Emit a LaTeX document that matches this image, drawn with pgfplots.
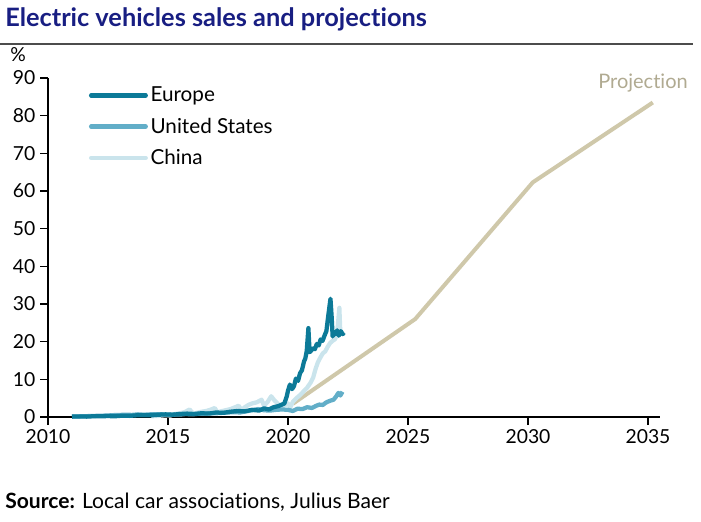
\documentclass[border=0pt]{standalone}
\usepackage{pgfplots}
\pgfplotsset{compat=1.18}
\usepackage{fontspec}
\setmainfont{Lato}[Ligatures={NoCommon}]
\definecolor{europe}{RGB}{12,122,152}
\definecolor{usa}{RGB}{98,174,200}
\definecolor{china}{RGB}{202,228,236}
\definecolor{proj}{RGB}{207,200,170}
\definecolor{navy}{RGB}{24,30,130}
\begin{document}
\begin{tikzpicture}
\useasboundingbox (-36pt,-78.75pt) rectangle (489.75pt,312.75pt);
\begin{axis}[
  scale only axis,
  width=459pt, height=254.25pt,
  xmin=2010, xmax=2035.5, ymin=0, ymax=90,
  axis x line=bottom, axis y line=left,
  axis line style={-, line width=1.1pt, black},
  xtick={2010,2015,2020,2025,2030,2035},
  ytick={0,10,...,90},
  xticklabel style={/pgf/number format/1000 sep={}},
  /pgf/number format/assume math mode=true,
  ticklabel style={font=\fontsize{14.5}{17}\selectfont},
  tick align=outside,
  major tick length=6pt,
  tick style={line width=1.1pt, black},
  legend style={at={(rel axis cs:0.06,0.99)}, anchor=north west, draw=none, fill=none,
    font=\fontsize{15.5}{18}\selectfont, row sep=6.6pt,
    legend cell align=left},
  legend image code/.code={\draw[#1] (0pt,0pt) -- (41pt,0pt);},
  clip=false,
]
\addlegendimage{europe, line width=3.2pt, line cap=round}
\addlegendentry{Europe}
\addlegendimage{usa, line width=3.2pt, line cap=round}
\addlegendentry{United States}
\addlegendimage{china, line width=3.2pt, line cap=round}
\addlegendentry{China}
\addplot[forget plot, proj, line width=3pt] coordinates {(2020.2,3.5)(2025.3,26)(2030.2,62.3)(2035.2,83.5)};
\addplot[forget plot, china, line width=3.2pt, line join=round] coordinates {
(2014.3,0.2)(2014.6,0.3)(2014.9,0.5)(2015.1,0.4)(2015.3,0.8)(2015.5,1.0)(2015.7,1.3)(2015.9,2.0)(2016.05,0.9)(2016.2,1.1)(2016.4,1.4)(2016.6,1.6)(2016.8,2.0)(2016.95,2.4)(2017.05,1.2)(2017.2,1.5)(2017.4,1.8)(2017.6,2.1)(2017.8,2.6)(2017.95,3.0)(2018.05,1.8)(2018.2,2.6)(2018.35,3.2)(2018.5,3.6)(2018.7,3.9)(2018.9,4.6)(2019.0,3.0)(2019.15,4.0)(2019.3,5.5)(2019.45,4.3)(2019.6,3.4)(2019.75,2.8)(2019.9,3.2)(2020.0,3.6)(2020.1,2.6)(2020.2,4.0)(2020.35,5.0)(2020.5,5.8)(2020.65,6.8)(2020.8,7.8)(2020.95,9.2)(2021.05,10.5)(2021.15,12.8)(2021.25,14.6)(2021.35,15.8)(2021.45,16.9)(2021.55,17.4)(2021.65,18.6)(2021.75,19.6)(2021.85,20.2)(2021.95,20.6)(2022.02,21.5)(2022.08,24.5)(2022.14,29.0)(2022.18,22.5)(2022.22,21.8)};
\addplot[forget plot, usa, line width=3.2pt, line join=round] coordinates {
(2011.0,0.1)(2011.25,0.15)(2011.5,0.2)(2011.75,0.25)(2012.0,0.3)(2012.25,0.35)(2012.5,0.4)(2012.75,0.5)(2013.0,0.55)(2013.25,0.6)(2013.5,0.55)(2013.75,0.7)(2014.0,0.6)(2014.25,0.7)(2014.5,0.75)(2014.75,0.7)(2015.0,0.6)(2015.25,0.7)(2015.5,0.65)(2015.75,0.8)(2016.0,0.7)(2016.25,0.85)(2016.5,0.9)(2016.75,1.0)(2017.0,1.0)(2017.25,1.1)(2017.5,1.2)(2017.75,1.3)(2018.0,1.2)(2018.25,1.5)(2018.5,1.8)(2018.75,2.1)(2019.0,1.8)(2019.25,1.7)(2019.5,1.9)(2019.75,2.0)(2020.0,1.9)(2020.2,1.6)(2020.4,2.2)(2020.6,2.1)(2020.8,2.6)(2021.0,2.4)(2021.15,2.9)(2021.3,3.3)(2021.45,3.2)(2021.6,3.9)(2021.75,4.3)(2021.9,4.6)(2022.0,5.4)(2022.1,6.4)(2022.18,5.7)(2022.27,6.7)};
\addplot[forget plot, europe, line width=3.2pt, line join=round] coordinates {
(2011.0,0.1)(2011.3,0.15)(2011.6,0.1)(2011.9,0.2)(2012.2,0.2)(2012.5,0.25)(2012.8,0.2)(2013.1,0.35)(2013.4,0.3)(2013.7,0.45)(2014.0,0.5)(2014.3,0.45)(2014.6,0.6)(2014.9,0.7)(2015.2,0.6)(2015.5,0.8)(2015.8,0.9)(2016.1,0.8)(2016.4,1.0)(2016.7,0.9)(2017.0,1.2)(2017.3,1.1)(2017.6,1.4)(2017.9,1.6)(2018.2,1.5)(2018.5,1.9)(2018.8,1.7)(2019.0,2.3)(2019.2,2.0)(2019.4,2.6)(2019.6,2.9)(2019.75,3.3)(2019.85,3.6)(2019.95,5.5)(2020.0,7.0)(2020.08,8.6)(2020.17,7.4)(2020.25,8.2)(2020.33,10.2)(2020.42,9.6)(2020.5,11.6)(2020.58,12.4)(2020.67,14.8)(2020.72,15.5)(2020.78,17.5)(2020.85,23.6)(2020.9,17.2)(2020.96,17.6)(2021.04,18.3)(2021.12,18.0)(2021.2,19.4)(2021.28,19.0)(2021.36,20.6)(2021.44,20.2)(2021.52,21.6)(2021.6,22.8)(2021.66,26.0)(2021.72,29.0)(2021.77,31.4)(2021.82,26.5)(2021.86,21.4)(2021.92,22.6)(2021.98,22.0)(2022.05,23.0)(2022.12,21.6)(2022.2,22.8)(2022.28,22.0)(2022.33,22.4)};
\end{axis}
\node[anchor=base west, inner sep=0pt, text=navy, font=\fontsize{19}{22}\selectfont\bfseries] at (-32.25pt,292.5pt) {Electric vehicles sales and projections};
\draw[line width=1.3pt, black!70] (-36pt,279.75pt) -- (483.75pt,279.75pt);
\node[anchor=base west, inner sep=0pt, font=\fontsize{14.5}{17}\selectfont] at (-28.5pt,266.5pt) {\%};
\node[anchor=base east, inner sep=0pt, text=proj!85!black, font=\fontsize{15}{18}\selectfont] at (480pt,246.75pt) {Projection};
\node[anchor=base west, inner sep=0pt, font=\fontsize{15.8}{18}\selectfont] at (-32.25pt,-68.25pt) {\textbf{Source:} Local car associations, Julius Baer};
\end{tikzpicture}
\end{document}
